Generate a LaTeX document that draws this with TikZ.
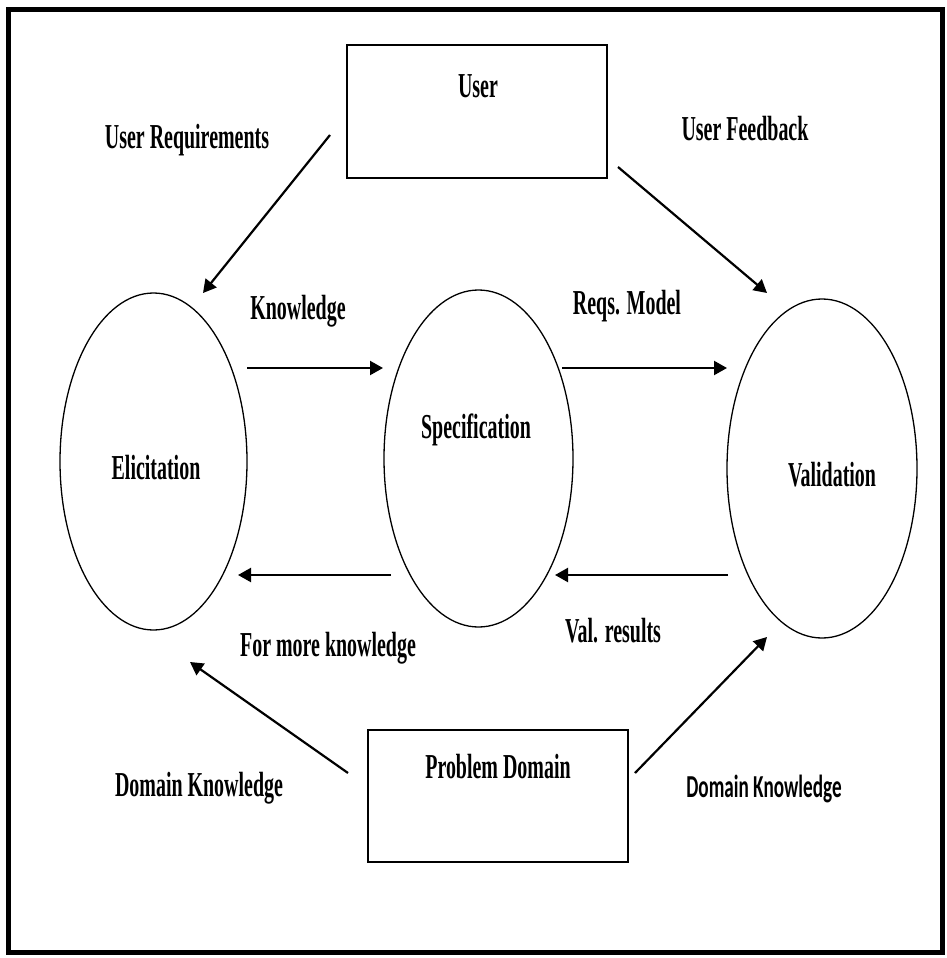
\documentclass[tikz,border=0pt]{standalone}
\usepackage{fontspec}
\setmainfont{Liberation Serif}[FakeStretch=0.57]
\newfontfamily\sidesans{Carlito}[FakeStretch=0.6]
\usetikzlibrary{shapes.geometric,arrows.meta}
\begin{document}
\begin{tikzpicture}[x=1pt,y=-1pt,
  box/.style={draw,line width=1.6pt,rectangle,inner sep=0pt},
  proc/.style={draw,line width=1.3pt,ellipse,inner sep=0pt},
  lbl/.style={inner sep=0pt,font=\fontsize{35}{38}\selectfont\bfseries},
  slbl/.style={inner sep=0pt,font=\sidesans\fontsize{32}{35}\selectfont\bfseries},
  flow/.style={line width=2.2pt,-{Triangle[length=13pt,width=14pt]}}]
\useasboundingbox (0,0) rectangle (947,958);
% outer frame
\draw[line width=5pt] (8,10) rectangle (942,952);

% boxes
\node[box,minimum width=260pt,minimum height=133pt] (user) at (477,111.5) {};
\node[box,minimum width=260pt,minimum height=132pt] (domain) at (498,796) {};

% process ellipses
\node[proc,minimum width=187pt,minimum height=337pt] (elic) at (153.5,461.5) {};
\node[proc,minimum width=189pt,minimum height=337pt] (spec) at (478.5,458.5) {};
\node[proc,minimum width=190pt,minimum height=339pt] (valid) at (822,468.5) {};

% names
\node[lbl] (userT) at (478,86) {User};
\node[lbl] (domainT) at (498,767) {Problem Domain};
\node[lbl] (elicT) at (156,468) {Elicitation};
\node[lbl] (specT) at (476,430) {Specification};
\node[lbl] (validT) at (832,475) {Validation};

% connector ends
\coordinate (urA) at (330,135);  \coordinate (urB) at (203,293);
\coordinate (ufA) at (618,167);  \coordinate (ufB) at (767,293);
\coordinate (knA) at (247,368);  \coordinate (knB) at (383,368);
\coordinate (rmA) at (562,368);  \coordinate (rmB) at (727,368);
\coordinate (fmA) at (391,575);  \coordinate (fmB) at (238,575);
\coordinate (vrA) at (728,575);  \coordinate (vrB) at (555,575);
\coordinate (dlA) at (348,773);  \coordinate (dlB) at (190,662);
\coordinate (drA) at (635,773);  \coordinate (drB) at (767,637);

% flows
\draw[flow] (urA) -- (urB);
\draw[flow] (ufA) -- (ufB);
\draw[flow] (knA) -- (knB);
\draw[flow] (rmA) -- (rmB);
\draw[flow] (fmA) -- (fmB);
\draw[flow] (vrA) -- (vrB);
\draw[flow] (dlA) -- (dlB);
\draw[flow] (drA) -- (drB);

% flow labels
\node[lbl] (urT) at (187,140) {User Requirements};
\node[lbl] (ufT) at (745,129) {User Feedback};
\node[lbl] (knT) at (298,311) {Knowledge};
\node[lbl] (rmT) at (627,306) {Reqs. Model};
\node[lbl] (fmT) at (328,648) {For more knowledge};
\node[lbl] (vrT) at (613,631) {Val. results};
\node[lbl] (dlT) at (199,788) {Domain Knowledge};
\node[slbl] (drT) at (764,789) {Domain Knowledge};
\end{tikzpicture}
\end{document}
